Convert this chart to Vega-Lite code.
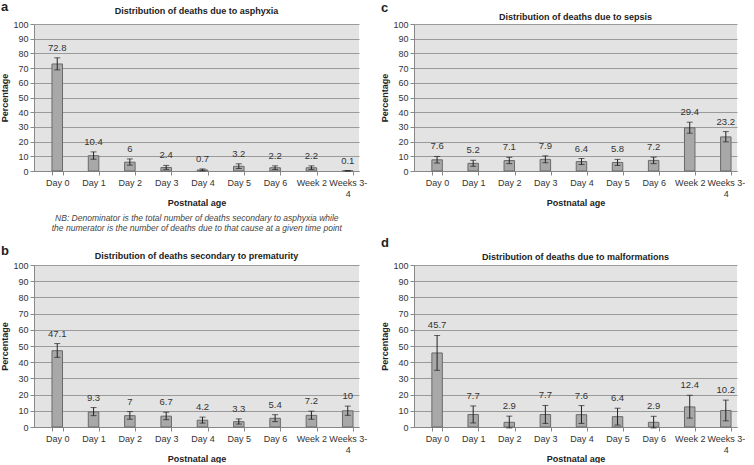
{
  "$schema": "https://vega.github.io/schema/vega-lite/v6.json",
  "padding": {"left": 0, "top": 1, "right": 0, "bottom": 0},
  "background": "white",
  "spacing": 4,
  "config": {
    "font": "Liberation Sans",
    "view": {"fill": "#e3e3e3", "stroke": null},
    "axis": {"labelFont": "Liberation Sans", "labelFontSize": 9, "labelColor": "#333", "titleFont": "Liberation Sans", "titleFontSize": 9, "titleFontWeight": "bold", "titleColor": "#222", "domainColor": "#888", "tickColor": "#888", "gridColor": "#9a9a9a"},
    "axisX": {"labelAngle": 0, "tickBand": "extent", "tickSize": 4, "labelPadding": 3, "labelLineHeight": 11, "titlePadding": 0},
    "axisY": {"tickSize": 4, "titlePadding": 3},
    "title": {"font": "Liberation Sans", "color": "#222"}
  },
  "data": {"values": [
    {"panel": "a", "age": "Day 0", "value": 72.8, "lo": 68.8, "hi": 77},
    {"panel": "a", "age": "Day 1", "value": 10.4, "lo": 8, "hi": 13},
    {"panel": "a", "age": "Day 2", "value": 6, "lo": 4, "hi": 8.2},
    {"panel": "a", "age": "Day 3", "value": 2.4, "lo": 1.1, "hi": 3.8},
    {"panel": "a", "age": "Day 4", "value": 0.7, "lo": 0.2, "hi": 1.4},
    {"panel": "a", "age": "Day 5", "value": 3.2, "lo": 1.7, "hi": 4.9},
    {"panel": "a", "age": "Day 6", "value": 2.2, "lo": 1, "hi": 3.5},
    {"panel": "a", "age": "Week 2", "value": 2.2, "lo": 1, "hi": 3.5},
    {"panel": "a", "age": "Weeks 3-4", "value": 0.1, "lo": 0, "hi": 0.3},
    {"panel": "c", "age": "Day 0", "value": 7.6, "lo": 5.4, "hi": 9.9},
    {"panel": "c", "age": "Day 1", "value": 5.2, "lo": 3.2, "hi": 7.3},
    {"panel": "c", "age": "Day 2", "value": 7.1, "lo": 5, "hi": 9.3},
    {"panel": "c", "age": "Day 3", "value": 7.9, "lo": 5.6, "hi": 10.3},
    {"panel": "c", "age": "Day 4", "value": 6.4, "lo": 4.4, "hi": 8.5},
    {"panel": "c", "age": "Day 5", "value": 5.8, "lo": 3.8, "hi": 7.9},
    {"panel": "c", "age": "Day 6", "value": 7.2, "lo": 5, "hi": 9.4},
    {"panel": "c", "age": "Week 2", "value": 29.4, "lo": 25.7, "hi": 33.2},
    {"panel": "c", "age": "Weeks 3-4", "value": 23.2, "lo": 19.8, "hi": 26.8},
    {"panel": "b", "age": "Day 0", "value": 47.1, "lo": 43, "hi": 51.5},
    {"panel": "b", "age": "Day 1", "value": 9.3, "lo": 7, "hi": 12},
    {"panel": "b", "age": "Day 2", "value": 7, "lo": 4.8, "hi": 9.5},
    {"panel": "b", "age": "Day 3", "value": 6.7, "lo": 4.5, "hi": 9.1},
    {"panel": "b", "age": "Day 4", "value": 4.2, "lo": 2.4, "hi": 6.1},
    {"panel": "b", "age": "Day 5", "value": 3.3, "lo": 1.8, "hi": 5},
    {"panel": "b", "age": "Day 6", "value": 5.4, "lo": 3.3, "hi": 7.6},
    {"panel": "b", "age": "Week 2", "value": 7.2, "lo": 4.8, "hi": 9.8},
    {"panel": "b", "age": "Weeks 3-4", "value": 10, "lo": 7.2, "hi": 12.9},
    {"panel": "d", "age": "Day 0", "value": 45.7, "lo": 35, "hi": 56.5},
    {"panel": "d", "age": "Day 1", "value": 7.7, "lo": 2.5, "hi": 13},
    {"panel": "d", "age": "Day 2", "value": 2.9, "lo": -0.6, "hi": 6.7},
    {"panel": "d", "age": "Day 3", "value": 7.7, "lo": 2.2, "hi": 13.3},
    {"panel": "d", "age": "Day 4", "value": 7.6, "lo": 2.2, "hi": 13.2},
    {"panel": "d", "age": "Day 5", "value": 6.4, "lo": 1.2, "hi": 11.6},
    {"panel": "d", "age": "Day 6", "value": 2.9, "lo": -0.6, "hi": 6.6},
    {"panel": "d", "age": "Week 2", "value": 12.4, "lo": 5.5, "hi": 19.6},
    {"panel": "d", "age": "Weeks 3-4", "value": 10.2, "lo": 3.8, "hi": 16.6}
  ]},
  "vconcat": [
    {
      "spacing": 13,
      "hconcat": [
        {
          "title": {"text": "a", "anchor": "start", "fontSize": 13, "fontWeight": "bold", "offset": -7},
          "vconcat": [{
            "title": {"text": ["NB: Denominator is the total number of deaths secondary to asphyxia while", "the numerator is the number of deaths due to that cause at a given time point"], "orient": "bottom", "anchor": "middle", "dx": 13, "fontSize": 8.5, "fontStyle": "italic", "fontWeight": "normal", "color": "#444", "offset": 7, "lineHeight": 10},
            "vconcat": [{
              "width": 325, "height": 147,
              "title": {"text": "Distribution of deaths due to asphyxia", "fontSize": 9, "fontWeight": "bold", "offset": 4},
              "transform": [{"filter": "datum.panel == 'a'"}],
              "encoding": {"x": {"field": "age", "type": "nominal", "sort": ["Day 0", "Day 1", "Day 2", "Day 3", "Day 4", "Day 5", "Day 6", "Week 2", "Weeks 3-4"], "scale": {"paddingInner": 0.71, "paddingOuter": 0.33, "align": 0.75}, "title": "Postnatal age", "axis": {"labelExpr": "datum.label == 'Weeks 3-4' ? ['Weeks 3-', '4'] : datum.label"}}},
              "layer": [
                {"mark": {"type": "bar", "fill": "#a8a8a8", "stroke": "#6a6a6a", "strokeWidth": 1}, "encoding": {"y": {"field": "value", "type": "quantitative", "title": "Percentage", "scale": {"domain": [0, 100]}, "axis": {"values": [0, 10, 20, 30, 40, 50, 60, 70, 80, 90, 100]}}}},
                {"mark": {"type": "errorbar", "color": "#222", "ticks": {"size": 6, "color": "#222"}}, "encoding": {"y": {"field": "lo", "type": "quantitative", "title": "Percentage", "scale": {"domain": [0, 100]}, "axis": {"values": [0, 10, 20, 30, 40, 50, 60, 70, 80, 90, 100]}}, "y2": {"field": "hi"}}},
                {"mark": {"type": "text", "dy": -10, "fontSize": 9.5, "color": "#333", "baseline": "middle"}, "encoding": {"y": {"field": "hi", "type": "quantitative", "title": "Percentage", "scale": {"domain": [0, 100]}, "axis": {"values": [0, 10, 20, 30, 40, 50, 60, 70, 80, 90, 100]}}, "text": {"field": "value", "type": "quantitative"}}}
              ]
            }]
          }]
        },
        {
          "title": {"text": "c", "anchor": "start", "fontSize": 13, "fontWeight": "bold", "offset": -2},
          "vconcat": [{
            "width": 323, "height": 147,
            "title": {"text": "Distribution of deaths due to sepsis", "fontSize": 9, "fontWeight": "bold", "offset": -2},
            "transform": [{"filter": "datum.panel == 'c'"}],
            "encoding": {"x": {"field": "age", "type": "nominal", "sort": ["Day 0", "Day 1", "Day 2", "Day 3", "Day 4", "Day 5", "Day 6", "Week 2", "Weeks 3-4"], "scale": {"paddingInner": 0.71, "paddingOuter": 0.33, "align": 0.75}, "title": "Postnatal age", "axis": {"labelExpr": "datum.label == 'Weeks 3-4' ? ['Weeks 3-', '4'] : datum.label"}}},
            "layer": [
              {"mark": {"type": "bar", "fill": "#a8a8a8", "stroke": "#6a6a6a", "strokeWidth": 1}, "encoding": {"y": {"field": "value", "type": "quantitative", "title": "Percentage", "scale": {"domain": [0, 100]}, "axis": {"values": [0, 10, 20, 30, 40, 50, 60, 70, 80, 90, 100]}}}},
              {"mark": {"type": "errorbar", "color": "#222", "ticks": {"size": 6, "color": "#222"}}, "encoding": {"y": {"field": "lo", "type": "quantitative", "title": "Percentage", "scale": {"domain": [0, 100]}, "axis": {"values": [0, 10, 20, 30, 40, 50, 60, 70, 80, 90, 100]}}, "y2": {"field": "hi"}}},
              {"mark": {"type": "text", "dy": -10, "fontSize": 9.5, "color": "#333", "baseline": "middle"}, "encoding": {"y": {"field": "hi", "type": "quantitative", "title": "Percentage", "scale": {"domain": [0, 100]}, "axis": {"values": [0, 10, 20, 30, 40, 50, 60, 70, 80, 90, 100]}}, "text": {"field": "value", "type": "quantitative"}}}
            ]
          }]
        }
      ]
    },
    {
      "spacing": 13,
      "hconcat": [
        {
          "title": {"text": "b", "anchor": "start", "fontSize": 13, "fontWeight": "bold", "offset": -6},
          "vconcat": [{
            "width": 325, "height": 162,
            "title": {"text": "Distribution of deaths secondary to prematurity", "fontSize": 9, "fontWeight": "bold", "offset": 0},
            "transform": [{"filter": "datum.panel == 'b'"}],
            "encoding": {"x": {"field": "age", "type": "nominal", "sort": ["Day 0", "Day 1", "Day 2", "Day 3", "Day 4", "Day 5", "Day 6", "Week 2", "Weeks 3-4"], "scale": {"paddingInner": 0.71, "paddingOuter": 0.33, "align": 0.75}, "title": "Postnatal age", "axis": {"labelExpr": "datum.label == 'Weeks 3-4' ? ['Weeks 3-', '4'] : datum.label"}}},
            "layer": [
              {"mark": {"type": "bar", "fill": "#a8a8a8", "stroke": "#6a6a6a", "strokeWidth": 1}, "encoding": {"y": {"field": "value", "type": "quantitative", "title": "Percentage", "scale": {"domain": [0, 100]}, "axis": {"values": [0, 10, 20, 30, 40, 50, 60, 70, 80, 90, 100]}}}},
              {"mark": {"type": "errorbar", "color": "#222", "ticks": {"size": 6, "color": "#222"}}, "encoding": {"y": {"field": "lo", "type": "quantitative", "title": "Percentage", "scale": {"domain": [0, 100]}, "axis": {"values": [0, 10, 20, 30, 40, 50, 60, 70, 80, 90, 100]}}, "y2": {"field": "hi"}}},
              {"mark": {"type": "text", "dy": -10, "fontSize": 9.5, "color": "#333", "baseline": "middle"}, "encoding": {"y": {"field": "hi", "type": "quantitative", "title": "Percentage", "scale": {"domain": [0, 100]}, "axis": {"values": [0, 10, 20, 30, 40, 50, 60, 70, 80, 90, 100]}}, "text": {"field": "value", "type": "quantitative"}}}
            ]
          }]
        },
        {
          "title": {"text": "d", "anchor": "start", "fontSize": 13, "fontWeight": "bold", "offset": 3},
          "vconcat": [{
            "width": 323, "height": 162,
            "title": {"text": "Distribution of deaths due to malformations", "fontSize": 9, "fontWeight": "bold", "offset": -1},
            "transform": [{"filter": "datum.panel == 'd'"}],
            "encoding": {"x": {"field": "age", "type": "nominal", "sort": ["Day 0", "Day 1", "Day 2", "Day 3", "Day 4", "Day 5", "Day 6", "Week 2", "Weeks 3-4"], "scale": {"paddingInner": 0.71, "paddingOuter": 0.33, "align": 0.75}, "title": "Postnatal age", "axis": {"labelExpr": "datum.label == 'Weeks 3-4' ? ['Weeks 3-', '4'] : datum.label"}}},
            "layer": [
              {"mark": {"type": "bar", "fill": "#a8a8a8", "stroke": "#6a6a6a", "strokeWidth": 1}, "encoding": {"y": {"field": "value", "type": "quantitative", "title": "Percentage", "scale": {"domain": [0, 100]}, "axis": {"values": [0, 10, 20, 30, 40, 50, 60, 70, 80, 90, 100]}}}},
              {"mark": {"type": "errorbar", "color": "#222", "ticks": {"size": 6, "color": "#222"}}, "encoding": {"y": {"field": "lo", "type": "quantitative", "title": "Percentage", "scale": {"domain": [0, 100]}, "axis": {"values": [0, 10, 20, 30, 40, 50, 60, 70, 80, 90, 100]}}, "y2": {"field": "hi"}}},
              {"mark": {"type": "text", "dy": -10, "fontSize": 9.5, "color": "#333", "baseline": "middle"}, "encoding": {"y": {"field": "hi", "type": "quantitative", "title": "Percentage", "scale": {"domain": [0, 100]}, "axis": {"values": [0, 10, 20, 30, 40, 50, 60, 70, 80, 90, 100]}}, "text": {"field": "value", "type": "quantitative"}}}
            ]
          }]
        }
      ]
    }
  ]
}
